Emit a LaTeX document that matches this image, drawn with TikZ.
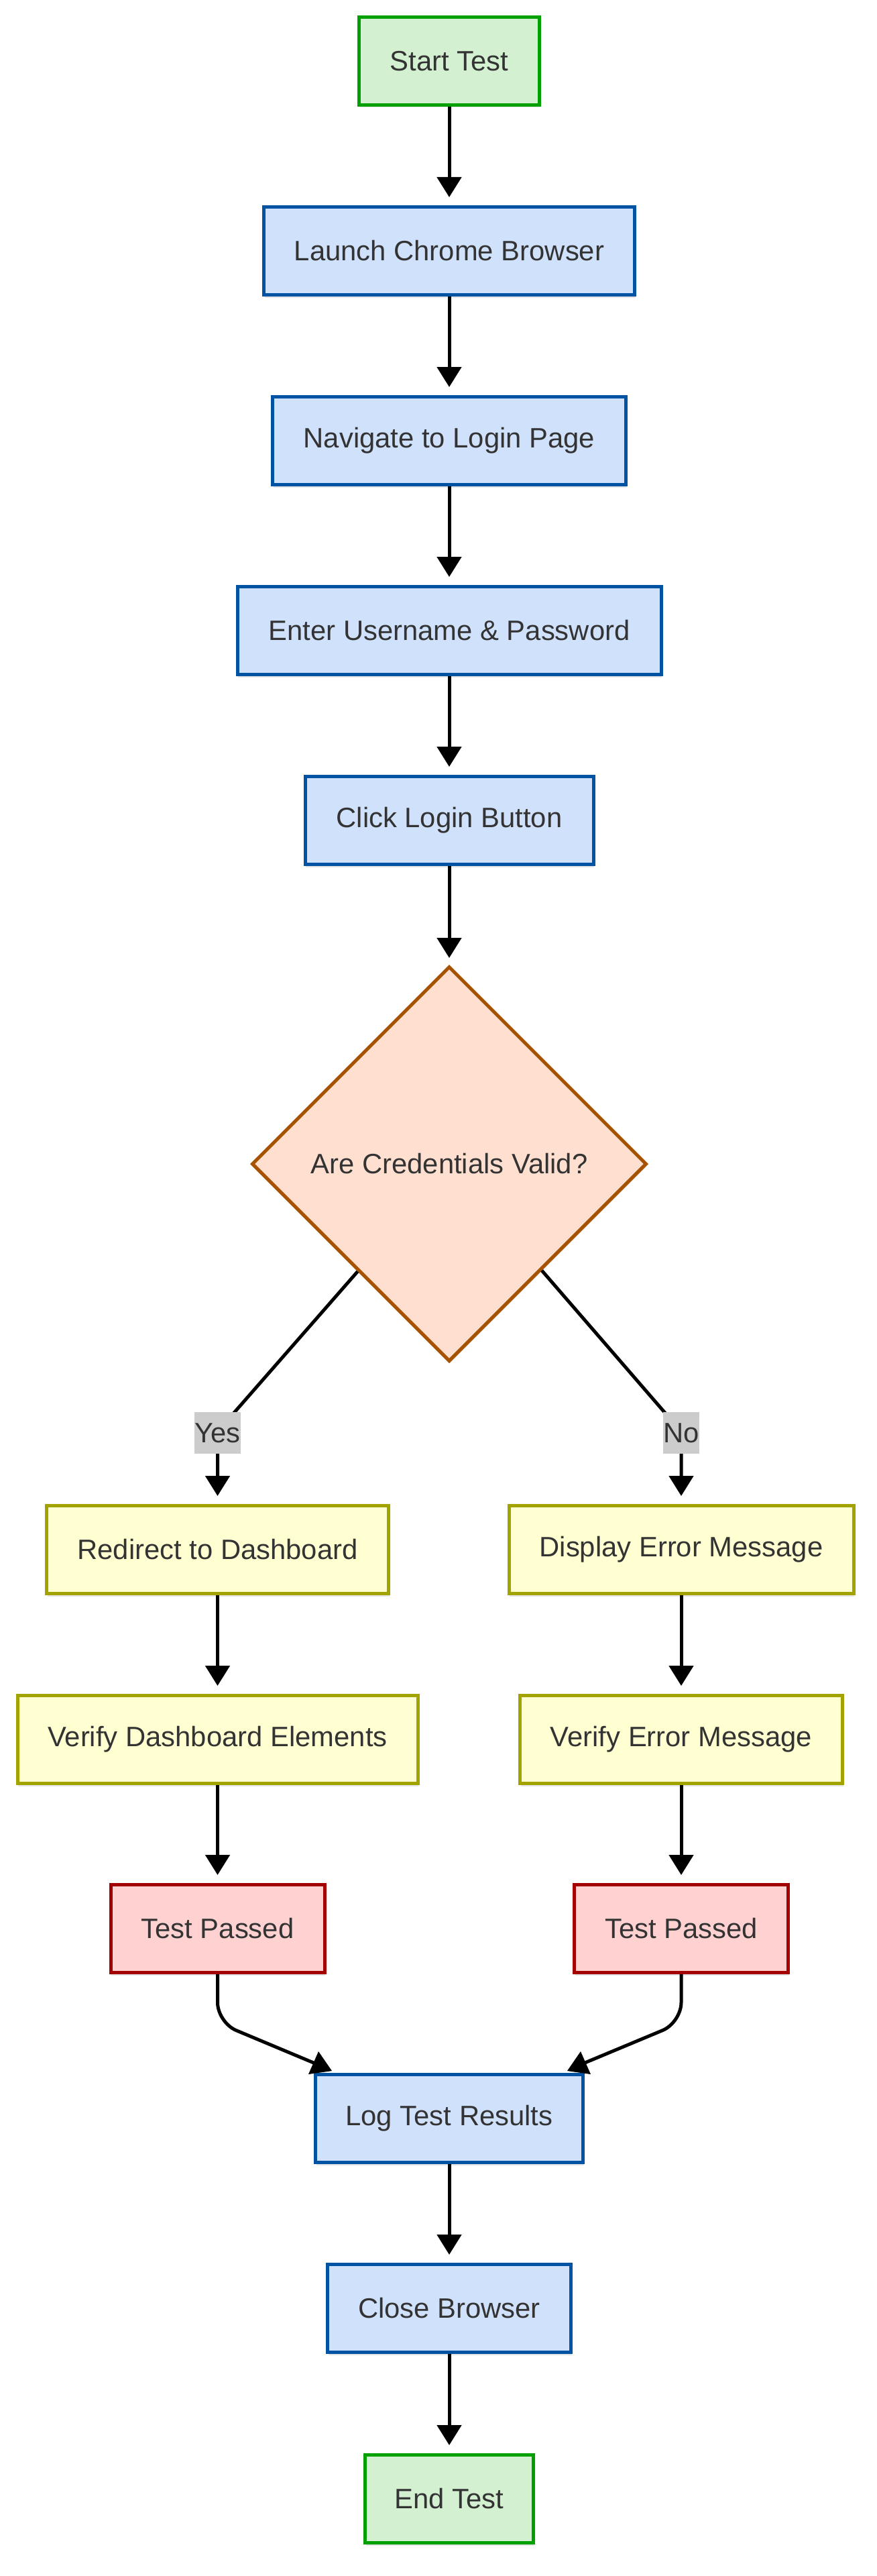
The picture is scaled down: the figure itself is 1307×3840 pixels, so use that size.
\documentclass[tikz,border=0pt]{standalone}
\usepackage{fontspec}
\setmainfont{Liberation Sans}
\usetikzlibrary{shapes.geometric,arrows.meta,shadows,calc}
\definecolor{txt}{HTML}{333333}
\definecolor{gfill}{HTML}{D3F0D1}
\definecolor{gline}{HTML}{00A000}
\definecolor{bfill}{HTML}{D0E1FC}
\definecolor{bline}{HTML}{0052A3}
\definecolor{ofill}{HTML}{FFDFD0}
\definecolor{oline}{HTML}{A65200}
\definecolor{yfill}{HTML}{FFFFD1}
\definecolor{yline}{HTML}{A3A300}
\definecolor{rfill}{HTML}{FFD1D1}
\definecolor{rline}{HTML}{A30000}
\definecolor{lblgray}{HTML}{CCCCCC}
\begin{document}
\begin{tikzpicture}[x=1pt,y=-1pt,
  font=\fontsize{41.8}{50}\selectfont,
  base/.style={draw, line width=5pt, rectangle, minimum height=131pt, inner sep=0pt,
    text=txt, align=center,
    drop shadow={shadow xshift=1pt, shadow yshift=-4pt, opacity=0.10, fill=black}},
  greenbox/.style={base, fill=gfill, draw=gline},
  bluebox/.style={base, fill=bfill, draw=bline},
  yellowbox/.style={base, fill=yfill, draw=yline},
  redbox/.style={base, fill=rfill, draw=rline},
  decisionbox/.style={diamond, aspect=1, draw=oline, fill=ofill, line width=5pt,
    minimum width=589pt, minimum height=589pt, inner sep=0pt, text=txt,
    drop shadow={shadow xshift=1pt, shadow yshift=-4pt, opacity=0.10, fill=black}},
  lbl/.style={fill=lblgray, text=txt, inner xsep=0pt, inner ysep=0pt, minimum height=62pt},
  wire/.style={draw=black, line width=5pt},
  conn/.style={wire, -{Triangle[length=30pt,width=36pt]}, shorten >=12pt}
]
\useasboundingbox (0,0) rectangle (1307,3840);
\fill[white] (0,0) rectangle (1307,3840);

\node[greenbox, minimum width=269pt] (start) at (670,91) {Start Test};
\node[bluebox, minimum width=553pt] (launch) at (670,374) {Launch Chrome Browser};
\node[bluebox, minimum width=527pt] (nav) at (670,657) {Navigate to Login Page};
\node[bluebox, minimum width=632pt] (enter) at (670,940) {Enter Username \& Password};
\node[bluebox, minimum width=430pt] (click) at (670,1223) {Click Login Button};
\node[decisionbox] (dia) at (670,1735) {Are Credentials Valid?};
\node[yellowbox, minimum width=510pt] (redir) at (324.5,2310) {Redirect to Dashboard};
\node[yellowbox, minimum width=514pt] (disp) at (1016,2310) {Display Error Message};
\node[yellowbox, minimum width=597pt] (vdash) at (324.5,2593) {Verify Dashboard Elements};
\node[yellowbox, minimum width=481pt] (verr) at (1016,2593) {Verify Error Message};
\node[redbox, minimum width=319pt] (tpl) at (324.5,2875) {Test Passed};
\node[redbox, minimum width=319pt] (tpr) at (1016,2875) {Test Passed};
\node[bluebox, minimum width=399pt] (log) at (670,3158) {Log Test Results};
\node[bluebox, minimum width=363pt] (close) at (670,3441) {Close Browser};
\node[greenbox, minimum width=251pt] (end) at (670,3725) {End Test};

\draw[conn] (start) -- (launch);
\draw[conn] (launch) -- (nav);
\draw[conn] (nav) -- (enter);
\draw[conn] (enter) -- (click);
\draw[conn, shorten >=10pt] (click) -- (dia);

\coordinate (yA) at ($(dia.west)!0.54!(dia.south)$);
\coordinate (yB) at (324.5,2134);
\coordinate (nA) at ($(dia.east)!0.535!(dia.south)$);
\coordinate (nB) at (1016,2134);
\draw[conn] (yA) -- (yB) -- (redir.north);
\draw[conn] (nA) -- (nB) -- (disp.north);
\node[lbl] (yes) at (324.5,2136) {Yes};
\node[lbl] (no) at (1016,2136) {No};

\draw[conn] (redir) -- (vdash);
\draw[conn] (vdash) -- (tpl);
\draw[conn] (disp) -- (verr);
\draw[conn] (verr) -- (tpr);

\coordinate (lB) at (324.5,3015);
\coordinate (lC) at (475,3078);
\coordinate (rB) at (1016,3015);
\coordinate (rC) at (865,3078);
\draw[wire, rounded corners=30pt] (tpl.south) -- (lB) -- (lC);
\draw[wire, rounded corners=30pt] (tpr.south) -- (rB) -- (rC);
\fill[black] (475,3058) -- (460,3092) -- (495,3087) -- cycle;
\fill[black] (866,3058) -- (846,3087) -- (881,3092) -- cycle;

\draw[conn] (log) -- (close);
\draw[conn] (close) -- (end);
\end{tikzpicture}
\end{document}
